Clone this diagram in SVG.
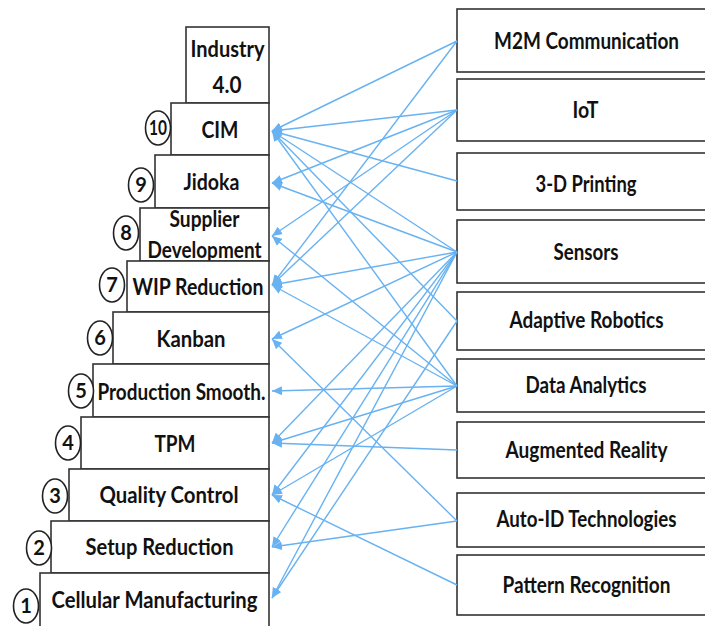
<svg xmlns="http://www.w3.org/2000/svg" width="705" height="626" viewBox="0 0 705 626">
<style>
.box{fill:#fff;stroke:#333;stroke-width:1.6}
.num{fill:#fff;stroke:#222;stroke-width:1.6}
.t{font-family:Lato,"Liberation Sans",sans-serif;font-weight:bold;font-size:22px;fill:#111;text-anchor:middle}
.n{font-family:Lato,"Liberation Sans",sans-serif;font-weight:bold;font-size:20px;fill:#111;text-anchor:middle}
.c line{stroke:#68b2f2;stroke-width:1.4;marker-end:url(#ah)}
</style>
<defs>
<marker id="ah" markerUnits="userSpaceOnUse" markerWidth="11" markerHeight="9" refX="10" refY="4.5" orient="auto">
<path d="M0,0 L10,4.5 L0,9 z" fill="#68b2f2"/>
</marker>
</defs>
<rect width="705" height="626" fill="#fff"/>

<g id="industry40"><rect class="box" x="186" y="27" width="83" height="76"/><text class="t" x="227.5" y="57" textLength="74" lengthAdjust="spacingAndGlyphs">Industry</text><text class="t" x="227" y="93" textLength="29" lengthAdjust="spacingAndGlyphs">4.0</text></g>
<g id="cim"><rect class="box" x="171" y="103" width="98" height="52"/><text class="t" x="220" y="138" textLength="37" lengthAdjust="spacingAndGlyphs">CIM</text><ellipse class="num" cx="158" cy="128" rx="12.5" ry="17"/><text class="n" x="158" y="135" textLength="18" lengthAdjust="spacingAndGlyphs">10</text></g>
<g id="jidoka"><rect class="box" x="155" y="155" width="114" height="53"/><text class="t" x="211.5" y="190" textLength="56" lengthAdjust="spacingAndGlyphs">Jidoka</text><ellipse class="num" cx="141" cy="185" rx="12.5" ry="17"/><text class="n" x="141" y="192">9</text></g>
<g id="supplier"><rect class="box" x="140" y="208" width="129" height="53"/><text class="t" x="204.5" y="227" textLength="70" lengthAdjust="spacingAndGlyphs">Supplier</text><text class="t" x="204.5" y="258" textLength="114" lengthAdjust="spacingAndGlyphs">Development</text><ellipse class="num" cx="126" cy="233" rx="12.5" ry="17"/><text class="n" x="126" y="240">8</text></g>
<g id="wip"><rect class="box" x="127" y="261" width="142" height="51"/><text class="t" x="198" y="295" textLength="131" lengthAdjust="spacingAndGlyphs">WIP Reduction</text><ellipse class="num" cx="112" cy="285" rx="12.5" ry="17"/><text class="n" x="112" y="292">7</text></g>
<g id="kanban"><rect class="box" x="113" y="312" width="156" height="52"/><text class="t" x="191" y="347" textLength="69" lengthAdjust="spacingAndGlyphs">Kanban</text><ellipse class="num" cx="100" cy="338" rx="12.5" ry="17"/><text class="n" x="100" y="345">6</text></g>
<g id="production"><rect class="box" x="93" y="364" width="176" height="53"/><text class="t" x="181.5" y="400" textLength="168" lengthAdjust="spacingAndGlyphs">Production Smooth.</text><ellipse class="num" cx="81" cy="391" rx="12.5" ry="17"/><text class="n" x="81" y="398">5</text></g>
<g id="tpm"><rect class="box" x="81" y="417" width="188" height="52"/><text class="t" x="175" y="452" textLength="41" lengthAdjust="spacingAndGlyphs">TPM</text><ellipse class="num" cx="68" cy="443" rx="12.5" ry="17"/><text class="n" x="68" y="450">4</text></g>
<g id="quality"><rect class="box" x="69" y="469" width="200" height="52"/><text class="t" x="169" y="503" textLength="139" lengthAdjust="spacingAndGlyphs">Quality Control</text><ellipse class="num" cx="55" cy="496" rx="12.5" ry="17"/><text class="n" x="55" y="503">3</text></g>
<g id="setup"><rect class="box" x="51" y="521" width="218" height="52"/><text class="t" x="159.5" y="555" textLength="148" lengthAdjust="spacingAndGlyphs">Setup Reduction</text><ellipse class="num" cx="39" cy="548" rx="12.5" ry="17"/><text class="n" x="39" y="555">2</text></g>
<g id="cellular"><rect class="box" x="40" y="573" width="229" height="56"/><text class="t" x="154.5" y="608" textLength="206" lengthAdjust="spacingAndGlyphs">Cellular Manufacturing</text><ellipse class="num" cx="26" cy="606" rx="12.5" ry="17"/><text class="n" x="26" y="613">1</text></g>

<g id="m2m"><rect class="box" x="457" y="9" width="262" height="63"/><text class="t" x="586.5" y="49" textLength="185" lengthAdjust="spacingAndGlyphs">M2M Communication</text></g>
<g id="iot"><rect class="box" x="457" y="79" width="262" height="62"/><text class="t" x="585.5" y="118" textLength="26" lengthAdjust="spacingAndGlyphs">IoT</text></g>
<g id="printing"><rect class="box" x="457" y="153" width="262" height="57"/><text class="t" x="586" y="192" textLength="101" lengthAdjust="spacingAndGlyphs">3-D Printing</text></g>
<g id="sensors"><rect class="box" x="457" y="220" width="262" height="63"/><text class="t" x="586" y="260" textLength="65" lengthAdjust="spacingAndGlyphs">Sensors</text></g>
<g id="robotics"><rect class="box" x="457" y="292" width="262" height="58"/><text class="t" x="586.5" y="328" textLength="154" lengthAdjust="spacingAndGlyphs">Adaptive Robotics</text></g>
<g id="analytics"><rect class="box" x="457" y="359" width="262" height="53"/><text class="t" x="586" y="393" textLength="121" lengthAdjust="spacingAndGlyphs">Data Analytics</text></g>
<g id="augmented"><rect class="box" x="457" y="422" width="262" height="56"/><text class="t" x="586.5" y="458" textLength="162" lengthAdjust="spacingAndGlyphs">Augmented Reality</text></g>
<g id="autoid"><rect class="box" x="457" y="493" width="262" height="54"/><text class="t" x="586.5" y="527" textLength="180" lengthAdjust="spacingAndGlyphs">Auto-ID Technologies</text></g>
<g id="pattern"><rect class="box" x="457" y="555" width="262" height="60"/><text class="t" x="586.5" y="593" textLength="168" lengthAdjust="spacingAndGlyphs">Pattern Recognition</text></g>

<g id="connectors" class="c">
<line x1="457" y1="41" x2="272" y2="131"/>
<line x1="457" y1="41" x2="272" y2="285"/>
<line x1="457" y1="110" x2="272" y2="131"/>
<line x1="457" y1="110" x2="272" y2="183"/>
<line x1="457" y1="110" x2="272" y2="236"/>
<line x1="457" y1="110" x2="272" y2="285"/>
<line x1="457" y1="181" x2="272" y2="131"/>
<line x1="457" y1="252" x2="272" y2="131"/>
<line x1="457" y1="252" x2="272" y2="183"/>
<line x1="457" y1="252" x2="272" y2="285"/>
<line x1="457" y1="252" x2="272" y2="339"/>
<line x1="457" y1="252" x2="272" y2="443"/>
<line x1="457" y1="252" x2="272" y2="495"/>
<line x1="457" y1="252" x2="272" y2="547"/>
<line x1="457" y1="252" x2="272" y2="598"/>
<line x1="457" y1="321" x2="272" y2="131"/>
<line x1="457" y1="321" x2="272" y2="598"/>
<line x1="457" y1="386" x2="272" y2="131"/>
<line x1="457" y1="386" x2="272" y2="236"/>
<line x1="457" y1="386" x2="272" y2="285"/>
<line x1="457" y1="386" x2="272" y2="391"/>
<line x1="457" y1="386" x2="272" y2="443"/>
<line x1="457" y1="386" x2="272" y2="495"/>
<line x1="457" y1="450" x2="272" y2="443"/>
<line x1="457" y1="521" x2="272" y2="339"/>
<line x1="457" y1="521" x2="272" y2="547"/>
<line x1="457" y1="585" x2="272" y2="495"/>
</g>
</svg>
